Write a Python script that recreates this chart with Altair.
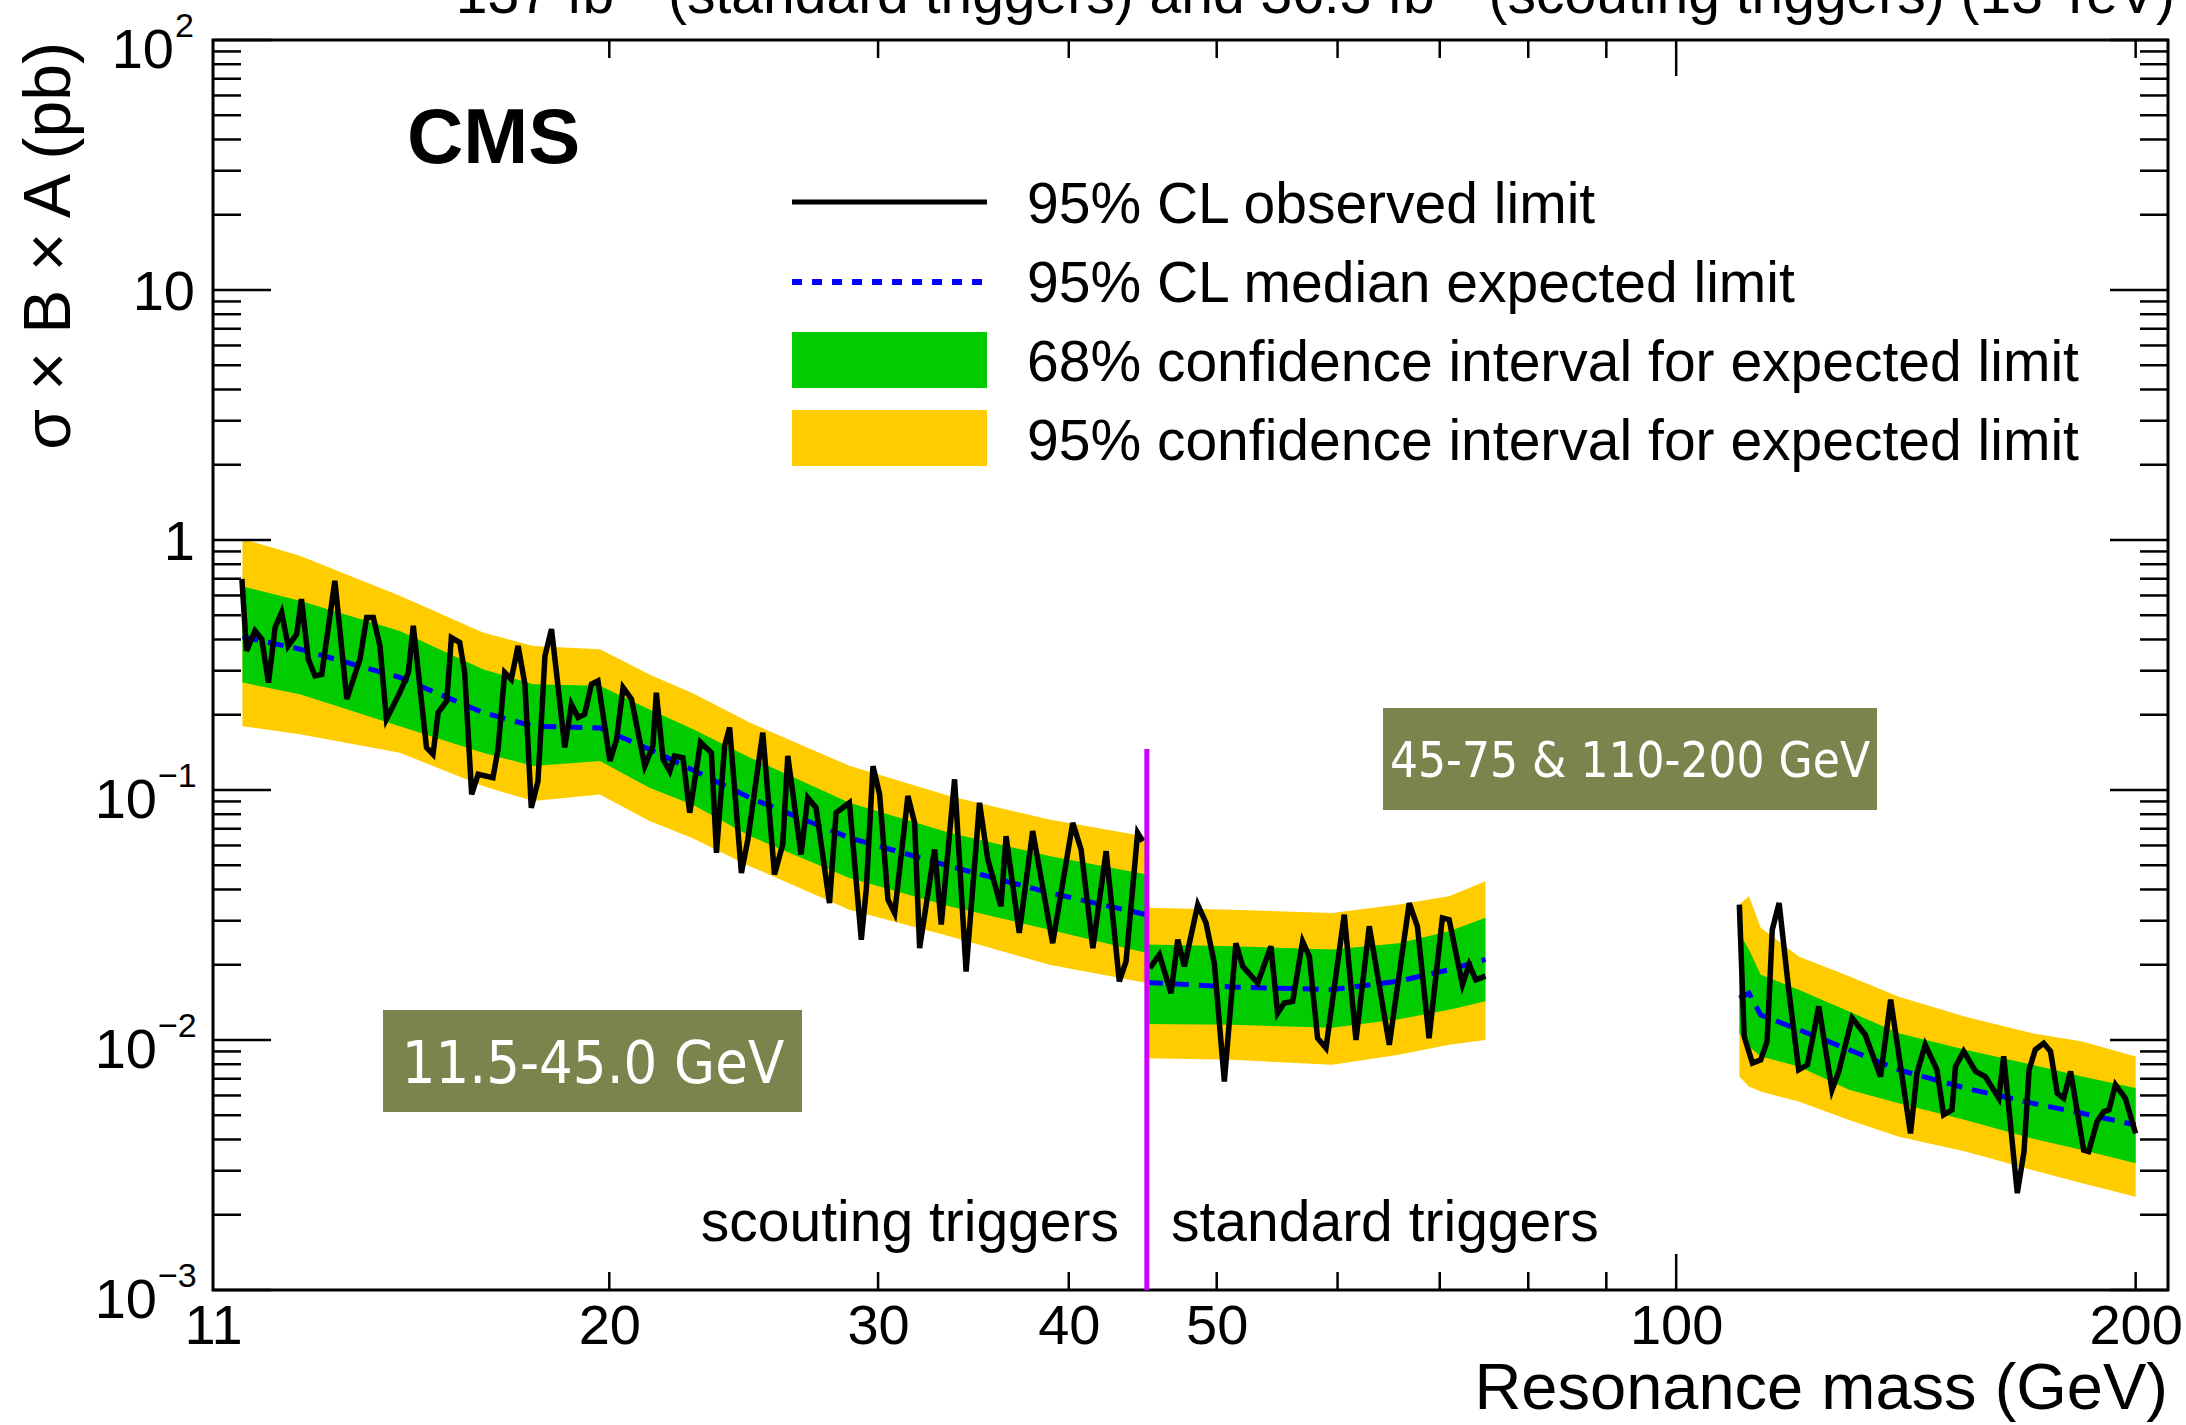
import altair as alt
import pandas as pd

# ---------------- data ----------------
# Region 1: 11.5-45 GeV (scouting triggers)
r1_mass = [11.5, 12.54, 14.58, 16.53, 17.83, 19.72, 21.25, 22.7, 24.72, 28.73, 33.41, 38.85, 45.0]
r1_y95_hi = [1.01, 0.865, 0.598, 0.427, 0.377, 0.366, 0.290, 0.243, 0.186, 0.125, 0.0946, 0.0762, 0.0650]
r1_y68_hi = [0.652, 0.571, 0.433, 0.304, 0.265, 0.261, 0.210, 0.175, 0.135, 0.0889, 0.0674, 0.0544, 0.0459]
r1_median = [0.41, 0.366, 0.282, 0.204, 0.180, 0.177, 0.1455, 0.12, 0.0931, 0.0644, 0.0496, 0.0388, 0.0317]
r1_y68_lo = [0.269, 0.2415, 0.180, 0.141, 0.1247, 0.1306, 0.102, 0.087, 0.0654, 0.0445, 0.0343, 0.0276, 0.0223]
r1_y95_lo = [0.180, 0.167, 0.141, 0.1037, 0.0903, 0.096, 0.0751, 0.064, 0.0496, 0.0332, 0.026, 0.020, 0.0169]

r1_obs_mass = [11.49, 11.57, 11.72, 11.84, 11.96, 12.08, 12.20, 12.32, 12.48, 12.57,
               12.70, 12.83, 12.96, 13.22, 13.46, 13.73, 13.87, 14.01, 14.15, 14.29,
               14.58, 14.77, 14.88, 15.18, 15.33, 15.45, 15.65, 15.76, 15.96, 16.08,
               16.25, 16.41, 16.78, 16.91, 17.08, 17.25, 17.43, 17.61, 17.78, 17.96,
               18.15, 18.33, 18.51, 18.70, 18.89, 19.08, 19.27, 19.47, 19.66, 20.02,
               20.22, 20.42, 20.68, 21.10, 21.36, 21.47, 21.69, 21.91, 22.07, 22.35,
               22.58, 22.95, 23.33, 23.51, 23.80, 23.98, 24.41, 24.65, 25.21, 25.66,
               25.98, 26.18, 26.71, 26.98, 27.32, 27.88, 28.16, 28.73, 29.25, 29.47,
               29.77, 30.07, 30.45, 30.76, 31.38, 31.70, 31.94, 32.67, 33.00, 33.67,
               34.26, 34.96, 35.40, 36.11, 36.39, 37.12, 37.88, 39.04, 40.24, 40.75,
               41.48, 42.32, 43.17, 43.61, 44.38, 44.72]
r1_obs = [0.698, 0.360, 0.433, 0.401, 0.269, 0.447, 0.513, 0.377, 0.420, 0.580,
          0.334, 0.286, 0.290, 0.687, 0.231, 0.334, 0.490, 0.490, 0.377, 0.192,
          0.245, 0.295, 0.454, 0.148, 0.139, 0.204, 0.227, 0.407, 0.389, 0.295,
          0.096, 0.1155, 0.112, 0.1455, 0.295, 0.277, 0.377, 0.265, 0.0849, 0.1086,
          0.344, 0.440, 0.261, 0.148, 0.220, 0.195, 0.201, 0.265, 0.273, 0.1306,
          0.1595, 0.257, 0.231, 0.1247, 0.150, 0.245, 0.1326, 0.119, 0.1368, 0.1346,
          0.0811, 0.155, 0.141, 0.0561, 0.150, 0.1777, 0.0466, 0.0634, 0.1696, 0.0459,
          0.0605, 0.1368, 0.0552, 0.0931, 0.0849, 0.0353, 0.0811, 0.0889, 0.0252, 0.040,
          0.1247, 0.0960, 0.0365, 0.0322, 0.0946, 0.0739, 0.0233, 0.0578, 0.0290, 0.1103,
          0.0188, 0.0889, 0.0527, 0.0343, 0.0654, 0.0268, 0.0685, 0.0244, 0.0739, 0.0578,
          0.0233, 0.0569, 0.01716, 0.02064, 0.0674, 0.0624]

# Region 2: 45-75 GeV (standard triggers)
r2_mass = [45.0, 51.2, 59.5, 65.8, 71.0, 75.0]
r2_y95_hi = [0.0338, 0.0332, 0.0322, 0.0348, 0.0376, 0.0432]
r2_y68_hi = [0.0241, 0.0237, 0.0230, 0.0244, 0.0272, 0.0308]
r2_median = [0.0170, 0.0163, 0.0159, 0.0172, 0.0191, 0.0210]
r2_y68_lo = [0.0116, 0.0115, 0.0112, 0.0121, 0.0132, 0.0143]
r2_y95_lo = [0.00846, 0.00833, 0.00796, 0.00872, 0.00957, 0.0100]

r2_obs_mass = [45.2, 45.86, 46.67, 47.15, 47.62, 48.59, 49.20, 49.82, 50.58, 51.47,
               52.0, 53.19, 54.26, 54.81, 55.36, 56.07, 56.92, 57.50, 58.22, 58.96,
               60.61, 61.69, 62.94, 64.87, 66.85, 67.68, 68.88, 70.28, 71.0, 72.44,
               73.17, 73.91, 75.0]
r2_obs = [0.0194, 0.02195, 0.0154, 0.0252, 0.0197, 0.0348, 0.0294, 0.0203, 0.00682, 0.0244,
          0.0197, 0.0169, 0.0237, 0.0128, 0.01405, 0.01427, 0.0248, 0.0216, 0.01017, 0.00928,
          0.0317, 0.0100, 0.0285, 0.00957, 0.0353, 0.0285, 0.01017, 0.0308, 0.0303, 0.01664,
          0.020, 0.0174, 0.0180]

# Region 3: 110-200 GeV (standard triggers)
r3_mass = [110.0, 111.6, 113.6, 120.3, 129.8, 139.9, 154.7, 171.1, 184.5, 200.0]
r3_y95_hi = [0.0348, 0.0376, 0.0281, 0.0216, 0.0180, 0.0149, 0.0124, 0.01065, 0.00986, 0.0086]
r3_y68_hi = [0.0268, 0.023, 0.01825, 0.0159, 0.0130, 0.01065, 0.00914, 0.00796, 0.00714, 0.00642]
r3_median = [0.0147, 0.0154, 0.0126, 0.0110, 0.00914, 0.0076, 0.00642, 0.00559, 0.00509, 0.00457]
r3_y68_lo = [0.01065, 0.00942, 0.0086, 0.00783, 0.00632, 0.00559, 0.00479, 0.00404, 0.00363, 0.00321]
r3_y95_lo = [0.00714, 0.00651, 0.00622, 0.00567, 0.00479, 0.0041, 0.00358, 0.00302, 0.00267, 0.00236]

r3_obs_mass = [110.0, 110.8, 112.2, 113.6, 114.7, 115.6, 116.8, 118.5, 120.3, 121.9,
               124.0, 126.5, 127.8, 130.4, 133.0, 136.1, 138.2, 142.4, 143.8, 145.6,
               148.2, 149.7, 151.6, 152.4, 154.3, 157.1, 159.4, 162.7, 163.9, 167.3,
               169.0, 170.3, 171.9, 174.1, 175.9, 177.7, 179.4, 181.3, 184.9, 186.3,
               188.7, 190.6, 192.1, 194.0, 196.9, 200.0]
r3_obs = [0.0348, 0.01033, 0.00808, 0.00833, 0.00986, 0.0276, 0.0353, 0.0159, 0.0076, 0.00796,
          0.01363, 0.00632, 0.00748, 0.01224, 0.0105, 0.00714, 0.01449, 0.00423, 0.00737, 0.00957,
          0.0076, 0.00502, 0.00525, 0.00783, 0.0090, 0.00748, 0.00714, 0.00585, 0.0086, 0.00244,
          0.00358, 0.0076, 0.00914, 0.00971, 0.0090, 0.00612, 0.00585, 0.00748, 0.00363, 0.00358,
          0.00472, 0.00517, 0.00525, 0.00662, 0.00585, 0.00423]

# trigger boundary line
boundary_mass = [45.0]
boundary_top = [0.146]
boundary_bottom = [0.001]

# axes / ticks
x_tick_labels = [11, 20, 30, 40, 50, 100, 200]
x_minor_ticks = [20, 30, 40, 50, 60, 70, 80, 90, 200]
x_major_ticks = [100]
y_major_ticks = [0.001, 0.01, 0.1, 1, 10, 100]
y_minor_ticks = [m * 10.0 ** e for e in range(-3, 2) for m in range(2, 10)]
y_label_values = [0.001, 0.01, 0.1, 1, 10, 100]
y_label_base = ["10", "10", "10", "1", "10", "10"]
y_label_exp = ["\u22123", "\u22122", "\u22121", "", "", "2"]

legend_labels = ["95% CL observed limit", "95% CL median expected limit",
                 "68% confidence interval for expected limit",
                 "95% confidence interval for expected limit"]
top_title = "137 fb\u207b\u00b9 (standard triggers) and 36.3 fb\u207b\u00b9 (scouting triggers) (13 TeV)"
x_title = "Resonance mass (GeV)"
y_title = "\u03c3 \u00d7 B \u00d7 A (pb)"
cms_label = "CMS"
left_note = "scouting triggers"
right_note = "standard triggers"
box1_text = "11.5-45.0 GeV"
box2_text = "45-75 & 110-200 GeV"

# ---------------- build tables ----------------
def bands(region, mass, a, b, c, d, e):
    return pd.DataFrame({"region": region, "mass": mass, "y95_hi": a, "y68_hi": b,
                         "median": c, "y68_lo": d, "y95_lo": e})

band_df = pd.concat([
    bands("r1", r1_mass, r1_y95_hi, r1_y68_hi, r1_median, r1_y68_lo, r1_y95_lo),
    bands("r2", r2_mass, r2_y95_hi, r2_y68_hi, r2_median, r2_y68_lo, r2_y95_lo),
    bands("r3", r3_mass, r3_y95_hi, r3_y68_hi, r3_median, r3_y68_lo, r3_y95_lo),
], ignore_index=True)

obs_df = pd.concat([
    pd.DataFrame({"region": "r1", "mass": r1_obs_mass, "obs": r1_obs}),
    pd.DataFrame({"region": "r2", "mass": r2_obs_mass, "obs": r2_obs}),
    pd.DataFrame({"region": "r3", "mass": r3_obs_mass, "obs": r3_obs}),
], ignore_index=True)

ylab_df = pd.DataFrame({"val": y_label_values, "base": y_label_base, "exp": y_label_exp})
ylab_df["kind"] = ["neg" if s.startswith("\u2212") else ("pos" if s else "none") for s in y_label_exp]

# ---------------- styling ----------------
W, H = 1955, 1250
FONT = "Liberation Sans, Arial, Helvetica, sans-serif"
NARROW = "DejaVu Sans Condensed, Liberation Sans Narrow, Roboto, sans-serif"
YELLOW = "#ffcc00"
GREEN = "#00cc00"
OLIVE = "#7a854d"

xscale = alt.Scale(type="log", domain=[11, 210], nice=False)
yscale = alt.Scale(type="log", domain=[0.001, 100], nice=False)
xaxis = alt.Axis(values=x_tick_labels, format="d", labelFont=FONT, labelFontSize=56,
                 labelColor="black", labelPadding=9, labelFlush=False, labelOverlap=False,
                 ticks=False, domain=False, grid=False, title=None)


def X(field):
    return alt.X(field, type="quantitative", scale=xscale, axis=xaxis)


def Y(field):
    return alt.Y(field, type="quantitative", scale=yscale, axis=None)


def text_at(s, x, y, size=57, align="left", **kw):
    return alt.Chart(pd.DataFrame({"t": [s]})).mark_text(
        font=kw.pop("font", FONT), fontSize=size, align=align,
        baseline=kw.pop("baseline", "alphabetic"), color=kw.pop("color", "black"), **kw
    ).encode(text="t:N", x=alt.value(x), y=alt.value(y))


def box_at(x1, x2, y1, y2, color):
    return alt.Chart(pd.DataFrame({"k": [0]})).mark_rect(color=color).encode(
        x=alt.value(x1), x2=alt.value(x2), y=alt.value(y1), y2=alt.value(y2))


def hline_at(x1, x2, y, color, width, dash=None):
    kw = dict(color=color, strokeWidth=width)
    if dash:
        kw["strokeDash"] = dash
    return alt.Chart(pd.DataFrame({"k": [0]})).mark_rule(**kw).encode(
        x=alt.value(x1), x2=alt.value(x2), y=alt.value(y))


layers = []

# bands
layers.append(alt.Chart(band_df).mark_area(color=YELLOW, opacity=1).encode(
    x=X("mass"), y=Y("y95_hi"), y2=alt.Y2("y95_lo"), detail="region:N"))
layers.append(alt.Chart(band_df).mark_area(color=GREEN, opacity=1).encode(
    x=X("mass"), y=Y("y68_hi"), y2=alt.Y2("y68_lo"), detail="region:N"))
# median expected
layers.append(alt.Chart(band_df).mark_line(color="#0000ff", strokeWidth=5, strokeDash=[16, 10]).encode(
    x=X("mass"), y=Y("median"), detail="region:N"))
# observed
layers.append(alt.Chart(obs_df).mark_line(color="black", strokeWidth=5.5, strokeJoin="miter").encode(
    x=X("mass"), y=Y("obs"), detail="region:N"))
# trigger boundary
layers.append(alt.Chart(pd.DataFrame({"mass": boundary_mass, "top": boundary_top, "bottom": boundary_bottom}))
              .mark_rule(color="#cc00ff", strokeWidth=5).encode(x=X("mass"), y=Y("top"), y2=alt.Y2("bottom")))

# ticks (inside the frame, ROOT style)
ymaj = pd.DataFrame({"val": y_major_ticks})
ymin = pd.DataFrame({"val": y_minor_ticks})
xmaj = pd.DataFrame({"val": x_major_ticks})
xmin = pd.DataFrame({"val": x_minor_ticks})
TK = dict(color="black", strokeWidth=2.5)
layers.append(alt.Chart(ymaj).mark_rule(**TK).encode(y=Y("val"), x=alt.value(0), x2=alt.value(58)))
layers.append(alt.Chart(ymaj).mark_rule(**TK).encode(y=Y("val"), x=alt.value(W - 58), x2=alt.value(W)))
layers.append(alt.Chart(ymin).mark_rule(**TK).encode(y=Y("val"), x=alt.value(0), x2=alt.value(28)))
layers.append(alt.Chart(ymin).mark_rule(**TK).encode(y=Y("val"), x=alt.value(W - 28), x2=alt.value(W)))
layers.append(alt.Chart(xmin).mark_rule(**TK).encode(x=X("val"), y=alt.value(H - 18), y2=alt.value(H)))
layers.append(alt.Chart(xmin).mark_rule(**TK).encode(x=X("val"), y=alt.value(0), y2=alt.value(18)))
layers.append(alt.Chart(xmaj).mark_rule(**TK).encode(x=X("val"), y=alt.value(H - 36), y2=alt.value(H)))
layers.append(alt.Chart(xmaj).mark_rule(**TK).encode(x=X("val"), y=alt.value(0), y2=alt.value(36)))

# y tick labels with superscripts
base_pos = {"none": -18, "neg": -56, "pos": -39}
for kind, xr in base_pos.items():
    sub = alt.Chart(ylab_df).transform_filter(alt.datum.kind == kind)
    dy = 20 if kind == "none" else 28
    layers.append(sub.mark_text(font=FONT, fontSize=56, align="right", baseline="alphabetic", dy=dy,
                                color="black").encode(y=Y("val"), x=alt.value(xr), text="base:N"))
    if kind != "none":
        layers.append(sub.mark_text(font=FONT, fontSize=34, align="left", baseline="alphabetic", dy=-3,
                                    color="black").encode(y=Y("val"), x=alt.value(xr + 1), text="exp:N"))

# axis titles and top title
layers.append(text_at(x_title, W, H + 119, size=65, align="right"))
layers.append(text_at(y_title, -143, 2, size=66, align="right", angle=270))
layers.append(text_at(top_title, 1962, -27, size=57, align="right"))

# CMS label
layers.append(text_at(cms_label, 194, 123, size=78, fontWeight="bold"))

# legend
layers.append(hline_at(579, 774, 162, "black", 5))
layers.append(hline_at(579, 774, 242, "#0000ff", 6, dash=[10, 10]))
layers.append(box_at(579, 774, 292, 348, GREEN))
layers.append(box_at(579, 774, 370, 426, YELLOW))
for lab, yb in zip(legend_labels, [183, 262, 341, 420]):
    layers.append(text_at(lab, 814, yb, size=57))

# trigger notes
layers.append(text_at(left_note, 906, 1201, size=57, align="right"))
layers.append(text_at(right_note, 958, 1201, size=57, align="left"))

# annotation boxes
layers.append(box_at(170, 589, 970, 1072, OLIVE))
layers.append(text_at(box1_text, 380, 1043, size=59, align="center", color="white", font=NARROW))
layers.append(box_at(1170, 1664, 668, 770, OLIVE))
layers.append(text_at(box2_text, 1417, 737, size=49, align="center", color="white", font=NARROW))

chart = alt.layer(*layers).properties(
    width=W, height=H,
    autosize=alt.AutoSizeParams(type="none"),
    padding={"left": 213, "top": 40, "right": 18, "bottom": 135},
    background="white",
).configure_view(stroke="black", strokeWidth=3)

chart.save("out.html", embed_options={"renderer": "svg", "actions": False})
